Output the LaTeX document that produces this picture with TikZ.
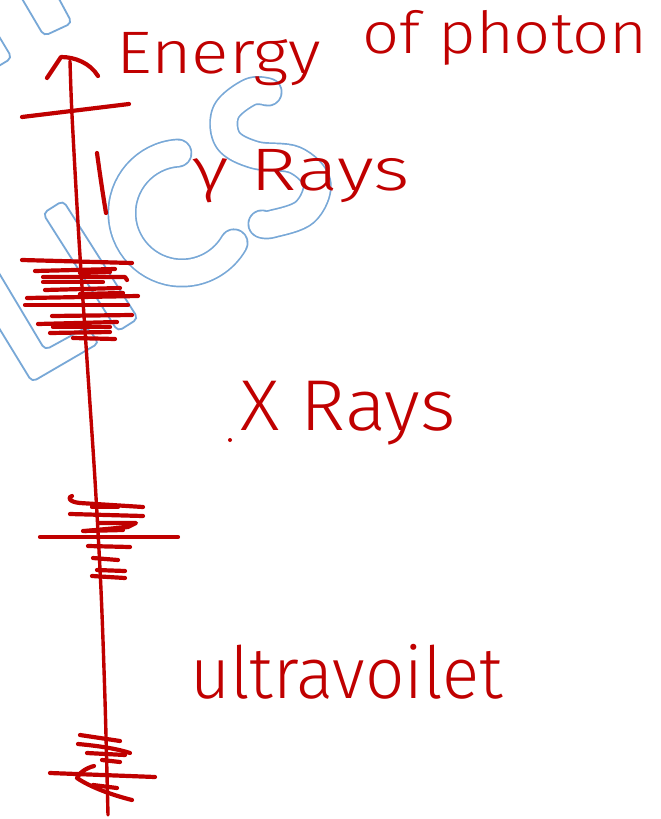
\documentclass[tikz,border=0pt]{standalone}
\usepackage{fontspec}
\IfFontExistsTF{Fira Sans Light}{\setmainfont{Fira Sans Light}}{\setmainfont{Liberation Sans}}
\definecolor{inkred}{RGB}{192,0,0}
\definecolor{wmblue}{RGB}{120,168,215}
\newcommand\wmstroke[1]{\draw[wmo] #1; \draw[wmi] #1;}
\begin{document}
\begin{tikzpicture}[x=1pt,y=-1pt,
  pen/.style={draw=inkred, line width=4.2pt, line cap=round, line join=round},
  axisline/.style={draw=inkred, line width=3.4pt, line cap=round},
  lab/.style={text=inkred, inner sep=0pt, anchor=base west},
  wmo/.style={draw=wmblue, line width=29pt, line cap=round, line join=round},
  wmi/.style={draw=white, line width=25.6pt, line cap=round, line join=round},
  wmline/.style={draw=wmblue, line width=1.8pt, rounded corners=5pt}]
\useasboundingbox[fill=white] (0,0) rectangle (661,819);

% ---------- watermark ----------
\draw[wmline] (21,-3) -- (44,36) -- (72,23) -- (58,-3);
\draw[wmline] (-3,33) -- (12,58) -- (-3,67);
\draw[wmline] (-1,273) -- (45,350) -- (87,327) -- (99,343) -- (32,382) -- (-1,328);
\draw[wmline] (63.1,200.6) -- (138.1,318.6) -- (117.9,331.4) -- (42.9,213.4) -- cycle;
\wmstroke{(177.8,153.1) arc[start angle=-94, end angle=-330, radius=60]}
\wmstroke{plot[smooth, tension=0.6] coordinates {(268,92) (250,92) (226,112) (228,140) (255,155) (295,160) (317,183) (305,212) (272,224) (262,224)}}

% ---------- axis ----------
\coordinate (axtop) at (70,61);
\coordinate (axbot) at (108,815);
\coordinate (tip) at (61,57);
\draw[axisline] plot[smooth] coordinates {(axtop) (72,115) (79,240) (87,360) (95,480) (101,590) (105,700) (axbot)};
\draw[pen] (47,78) -- (tip) .. controls (75,57) and (90,63) .. (98,76);
\draw[pen] (22,117) -- (129,104);
\draw[pen] (97,153) .. controls (100,175) and (103,195) .. (106,213);

% ---------- hatch cluster 1 ----------
\draw[pen] (22,260) -- (132,263);
\draw[pen] (35,271) -- (115,269);
\draw[pen] (80,273) -- (110,272);
\draw[pen] (43,277) -- (125,277) -- (127,280);
\draw[pen] (43,282) -- (103,282);
\draw[pen] (45,290) -- (120,288);
\draw[pen] (80,294) -- (123,293);
\draw[pen] (27,298) -- (138,296);
\draw[pen] (25,305) -- (128,305);
\draw[pen] (52,316) -- (132,315);
\draw[pen] (38,324) -- (117,322);
\draw[pen] (53,327) -- (110,327);
\draw[pen] (50,333) -- (110,332);
\draw[pen] (73,338) -- (115,339);

% ---------- hatch cluster 2 ----------
\draw[pen] (72,496) .. controls (67,497) and (69,502) .. (80,503) -- (143,507);
\draw[pen] (92,507) -- (118,507);
\draw[pen] (70,514) -- (143,516);
\draw[pen] (98,523) -- (136,523) -- (128,527) -- (85,531);
\draw[pen] (83,531) -- (123,530);
\draw[pen] (40,537) -- (178,537);
\draw[pen] (88,546) -- (130,547);
\draw[pen] (93,558) -- (118,560);
\draw[pen] (97,570) -- (125,571);
\draw[pen] (92,576) -- (125,578);

% ---------- hatch cluster 3 ----------
\draw[pen] (80,735) -- (120,741);
\draw[pen] (78,744) .. controls (100,746) and (118,749) .. (130,753);
\draw[pen] (87,753) -- (125,755);
\draw[pen] (102,760) -- (120,762);
\draw[pen] (50,773) -- (155,777);
\draw[pen] (94,766) .. controls (86,768) and (79,773) .. (77,778) .. controls (90,787) and (112,795) .. (132,800);
\draw[pen] (93,785) -- (117,788);

% ---------- labels ----------
\fill[inkred] (230,440) circle (2);
\node[lab] (energy) at (116,73) {\fontsize{60}{62}\selectfont\scalebox{1.16}[1]{Energy}};
\node[lab] (photon) at (362,53) {\fontsize{58}{60}\selectfont\scalebox{1.12}[1]{of photon}};
\node[lab] (gamma) at (192,190) {\fontsize{60}{62}\selectfont\scalebox{1.31}[1]{γ Rays}};
\node[lab] (xray) at (240,430) {\fontsize{72}{74}\selectfont\scalebox{1.06}[1]{X Rays}};
\node[lab] (uv) at (190,698) {\fontsize{72}{74}\selectfont\scalebox{0.96}[1]{ultravoilet}};
\end{tikzpicture}
\end{document}
